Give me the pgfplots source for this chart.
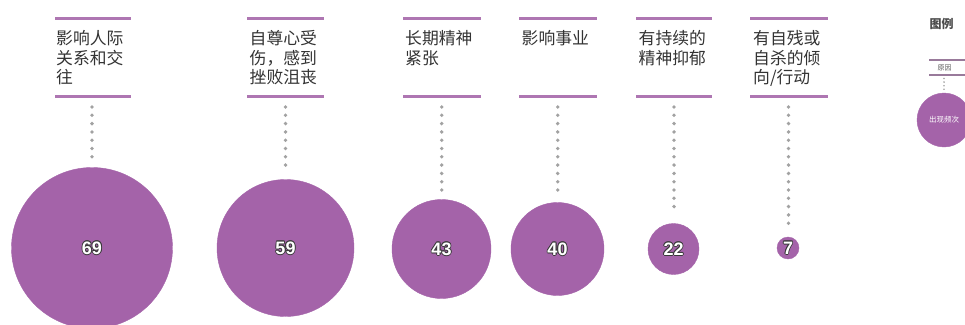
\documentclass[border=0pt]{standalone}
\usepackage{pgfplots}
\pgfplotsset{compat=1.18}
\usepackage{pgfplotstable}
\usepackage{fontspec}
\setmainfont{Noto Sans CJK SC}
\newfontfamily\numfont{Liberation Sans}
\definecolor{bub}{HTML}{A463A9}
\definecolor{ln}{HTML}{AE76B2}
\definecolor{dotc}{HTML}{A2A2A2}
\definecolor{txt}{HTML}{333333}
\definecolor{ol}{HTML}{3A3A3A}
\newcommand\outl[1]{\leavevmode
  \rlap{\kern0.9pt\color{ol}#1}\rlap{\kern-0.9pt\color{ol}#1}%
  \rlap{\raisebox{0.9pt}{\color{ol}#1}}\rlap{\raisebox{-0.9pt}{\color{ol}#1}}%
  \rlap{\kern0.65pt\raisebox{0.65pt}{\color{ol}#1}}\rlap{\kern-0.65pt\raisebox{0.65pt}{\color{ol}#1}}%
  \rlap{\kern0.65pt\raisebox{-0.65pt}{\color{ol}#1}}\rlap{\kern-0.65pt\raisebox{-0.65pt}{\color{ol}#1}}%
  {\color{white}#1}}

\pgfplotstableread{
x y r v
92 248 80.5 69
285.5 248 68.5 59
441.5 249 49.5 43
557.5 249 46.5 40
673.5 249 25.5 22
788 248 11 7
}\bubbles

\pgfplotstableread{
x y r v
944 120 27 出现频次
}\legbub

\begin{document}
\begin{tikzpicture}
\begin{axis}[at={(0,0)}, anchor=south west, scale only axis,
  width=965pt, height=324pt, xmin=0, xmax=965, ymin=0, ymax=324,
  y dir=reverse, hide axis, clip=true, clip mode=global,
  unbounded coords=jump]

% purple frame lines of the labels
\addplot[ln, line width=3pt, mark=none] coordinates {
 (55,18.5) (131,18.5) (0,nan) (55,96) (131,96) (0,nan)
 (247,18.5) (324,18.5) (0,nan) (247,96) (324,96) (0,nan)
 (403,18.5) (481,18.5) (0,nan) (403,96) (481,96) (0,nan)
 (519,18.5) (597,18.5) (0,nan) (519,96) (597,96) (0,nan)
 (636,18.5) (712,18.5) (0,nan) (636,96) (712,96) (0,nan)
 (750,18.5) (828,18.5) (0,nan) (750,96) (828,96)
};
% dotted connectors
\addplot[dotc, line width=3.8pt, line cap=round, dash pattern=on 0pt off 8.3pt, mark=none] coordinates {
 (92,107) (92,161) (0,nan)
 (285.5,107) (285.5,169) (0,nan)
 (441.7,107) (441.7,195) (0,nan)
 (557.7,107) (557.7,195) (0,nan)
 (674,107) (674,212) (0,nan)
 (788.5,107) (788.5,230)
};
% legend lines
\addplot[ln!55!gray, line width=1.2pt, mark=none] coordinates {
 (929,60) (966,60) (0,nan) (929,75) (966,75)
};
\addplot[dotc, line width=1.8pt, line cap=round, dash pattern=on 0pt off 3.6pt, mark=none] coordinates {
 (944,78.5) (944,92)
};

% bubbles
\addplot[scatter, only marks, mark=*,
  scatter/use mapped color={draw=bub, fill=bub},
  visualization depends on={\thisrow{r}\as\rr},
  scatter/@pre marker code/.append style={/tikz/mark size=\rr pt}]
  table[x=x, y=y, meta=r] {\bubbles};
\addplot[scatter, only marks, mark=*,
  scatter/use mapped color={draw=bub, fill=bub},
  visualization depends on={\thisrow{r}\as\rr},
  scatter/@pre marker code/.append style={/tikz/mark size=\rr pt}]
  table[x=x, y=y, meta=r] {\legbub};

% values
\addplot[only marks, mark=none, point meta=explicit symbolic,
  nodes near coords={\outl{\pgfplotspointmeta}},
  nodes near coords style={anchor=center, inner sep=0pt, font=\numfont\bfseries\fontsize{18}{18}\selectfont}]
  table[x=x, y=y, meta=v] {\bubbles};
\addplot[only marks, mark=none, point meta=explicit symbolic,
  nodes near coords={\pgfplotspointmeta},
  nodes near coords style={anchor=center, inner sep=0pt, text=white, font=\fontsize{7.5}{7.5}\selectfont}]
  table[x=x, y=y, meta=v] {\legbub};

% category labels
\begin{scope}[every node/.style={anchor=base west, inner sep=0pt, text=txt, font=\fontsize{16.8}{16.8}\selectfont}]
\node at (axis cs:56,44.8) {影响人际};
\node at (axis cs:56,64) {关系和交};
\node at (axis cs:56,83.3) {往};
\node at (axis cs:249.5,44.8) {自尊心受};
\node at (axis cs:249.5,64) {伤，感到};
\node at (axis cs:249.5,83.3) {挫败沮丧};
\node at (axis cs:405,44.8) {长期精神};
\node at (axis cs:405,64) {紧张};
\node at (axis cs:521.5,44.8) {影响事业};
\node at (axis cs:638.5,44.8) {有持续的};
\node at (axis cs:638.5,64) {精神抑郁};
\node at (axis cs:753,44.8) {有自残或};
\node at (axis cs:753,64) {自杀的倾};
\node at (axis cs:753,83.3) {向/行动};
\end{scope}
\node[anchor=center, inner sep=0pt, text=black!70, font=\bfseries\fontsize{12}{12}\selectfont] at (axis cs:941.5,24) {图例};
\node[anchor=center, inner sep=0pt, text=black!65, font=\fontsize{7}{7}\selectfont] at (axis cs:944.5,67.5) {原因};
\end{axis}
\pgfresetboundingbox
\path (0,0) rectangle (965pt,324pt);
\end{tikzpicture}
\end{document}
